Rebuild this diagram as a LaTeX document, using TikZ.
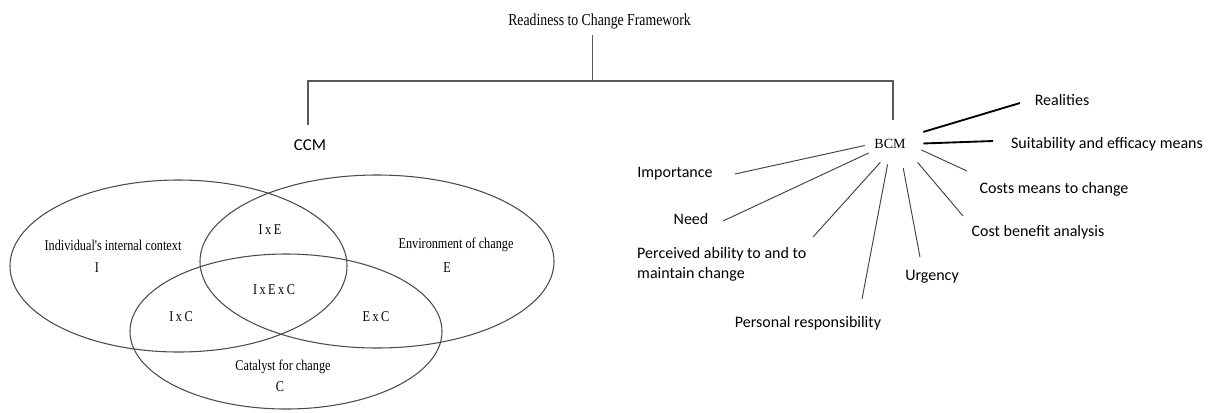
\documentclass[tikz,border=0pt]{standalone}
\usepackage{fontspec}
\setmainfont{Liberation Serif}
\newfontfamily\narrowserif[FakeStretch=0.82]{Liberation Serif}
\newfontfamily\carlito{Carlito}
\tikzset{
	tree/.style={draw=black!65, line width=1pt},
	venn/.style={draw=black!70, line width=0.8pt},
	vtext/.style={font=\narrowserif\fontsize{11.2}{13}\selectfont, inner sep=1pt},
	spoke/.style={draw=black!75, line width=0.7pt},
	boldspoke/.style={draw=black, line width=1.4pt},
	factor/.style={font=\carlito\fontsize{12}{15}\selectfont, inner sep=2pt},
}
\begin{document}
\begin{tikzpicture}[x=0.75pt, y=-0.75pt]
		\useasboundingbox (0,0) rectangle (1209,412);

		\node[font=\narrowserif\fontsize{12.6}{14}\selectfont, inner sep=2pt] (title) at (599.5,21) {Readiness to Change Framework};
		\node[font=\carlito\fontsize{12.5}{15}\selectfont] (ccm) at (310,145) {CCM};
		\node[font=\fontsize{10.5}{12}\selectfont, inner sep=2pt] (bcm) at (890,144) {BCM};

		\coordinate (hub) at (592.7,81);
		\coordinate (ccmdrop) at (308,125);
		\coordinate (bcmdrop) at (893,120);
		\draw[tree] (ccmdrop) |- (hub) -| (bcmdrop);
		\draw[tree, shorten <=2.5pt] (title.south -| hub) -- (hub);

		\draw[venn] (178.5,266) ellipse [x radius=168.5, y radius=86];
		\draw[venn] (377,261.5) ellipse [x radius=177, y radius=86.5];
		\draw[venn] (286,331.5) ellipse [x radius=156, y radius=77.5];

		\node[vtext] (itext) at (113,245) {Individual's internal context};
		\node[vtext] (i) at (97,268) {I};
		\node[vtext] (ixe) at (270,230) {I\,x\,E};
		\node[vtext] (ixexc) at (274,290) {I\,x\,E\,x\,C};
		\node[vtext] (ixc) at (181,317) {I\,x\,C};
		\node[vtext] (exc) at (376,317) {E\,x\,C};
		\node[vtext] (etext) at (456,245) {Environment of change};
		\node[vtext] (e) at (447,268) {E};
		\node[vtext] (ctext) at (283,367) {Catalyst for change};
		\node[vtext] (c) at (280,387) {C};

		\node[factor] (real) at (1062,100) {Realities};
		\node[factor] (suit) at (1107,144) {Suitability and efficacy means};
		\node[factor] (cma) at (1054,189) {Costs means to change};
		\node[factor] (cba) at (1038,232) {Cost benefit analysis};
		\node[factor] (urg) at (932,277) {Urgency};
		\node[factor] (pers) at (808,323) {Personal responsibility};
		\node[factor, align=left, anchor=west] (perc) at (634.3,264) {Perceived ability to and to\\maintain change};
		\node[factor] (need) at (691,219) {Need};
		\node[factor] (imp) at (675,174) {Importance};

		\coordinate (realend) at (1020,103);
		\coordinate (suitend) at (993,141);
		\coordinate (cmaend) at (967,171);
		\coordinate (cbaend) at (963,216);
		\coordinate (urgend) at (920,257);
		\coordinate (persend) at (862,299);
		\coordinate (percend) at (813,237);
		\coordinate (needend) at (723,221);
		\coordinate (impend) at (735,174);

		\draw[boldspoke, shorten <=11.6pt] (bcm.north east) -- (realend);
		\draw[boldspoke, shorten <=11.1pt] (bcm.east) -- (suitend);
		\draw[spoke, shorten <=10.6pt] (bcm.east) -- (cmaend);
		\draw[spoke, shorten <=10.5pt] (bcm.south east) -- (cbaend);
		\draw[spoke, shorten <=12.7pt] (bcm.-37) -- (urgend);
		\draw[spoke, shorten <=9.7pt] (bcm.south) -- (persend);
		\draw[spoke, shorten <=10.8pt] (bcm.south) -- (percend);
		\draw[spoke, shorten <=2.3pt] (bcm.south west) -- (needend);
		\draw[spoke, shorten <=5.2pt] (bcm.west) -- (impend);
	\end{tikzpicture}
\end{document}
